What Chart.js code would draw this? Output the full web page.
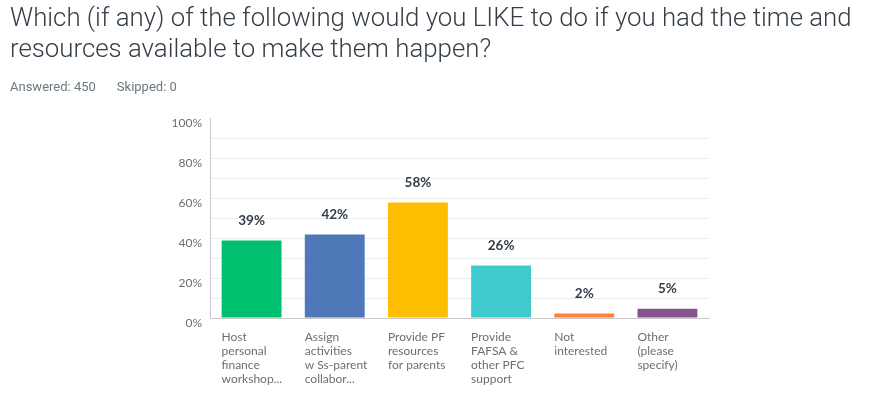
<!DOCTYPE html>
<html>
<head>
<meta charset="utf-8">
<script src="https://cdn.jsdelivr.net/npm/chart.js@4.4.1/dist/chart.umd.min.js"></script>
<style>
  html, body { margin: 0; padding: 0; background: #fff; }
  body { width: 874px; height: 395px; position: relative; overflow: hidden; }
  #title { position: absolute; left: 10px; top: 2px; width: 864px; font-family: Roboto, sans-serif; font-weight: 300; font-size: 25.8px; line-height: 31px; color: #333e48; white-space: nowrap; }
  #meta { position: absolute; left: 10px; top: 79px; font-family: Roboto, sans-serif; font-size: 13px; color: #6b787f; }
  #meta span + span { margin-left: 21px; }
  #wrap { position: absolute; left: 0; top: 0; width: 874px; height: 395px; }
</style>
</head>
<body>
<div id="wrap"><canvas id="c" width="874" height="395"></canvas></div>
<div id="title">Which (if any) of the following would you LIKE to do if you had the time and<br>resources available to make them happen?</div>
<div id="meta"><span>Answered: 450</span><span>Skipped: 0</span></div>
<script>
const categories = [
  ["Host", "personal", "finance", "workshop..."],
  ["Assign", "activities", "w Ss-parent", "collabor..."],
  ["Provide PF", "resources", "for parents"],
  ["Provide", "FAFSA &", "other PFC", "support"],
  ["Not", "interested"],
  ["Other", "(please", "specify)"]
];
const percentValues = [38.7, 41.8, 57.8, 26.2, 2.2, 4.6];
const barColors = ["#00bf6f", "#4f78b8", "#fdbd00", "#3fcbcd", "#fd8237", "#88548f"];
const yTickValues = [0, 20, 40, 60, 80, 100];

const valueLabels = {
  id: 'valueLabels',
  afterDatasetsDraw(chart) {
    const ctx = chart.ctx;
    const meta = chart.getDatasetMeta(0);
    ctx.save();
    ctx.font = "bold 13.5px Lato, sans-serif";
    ctx.fillStyle = "#333e48";
    ctx.textAlign = "center";
    ctx.textBaseline = "middle";
    meta.data.forEach((bar, i) => {
      ctx.fillText(Math.round(percentValues[i]) + "%", bar.x, bar.y - 20);
    });
    ctx.restore();
  }
};

new Chart(document.getElementById('c'), {
  type: 'bar',
  data: {
    labels: categories,
    datasets: [{
      data: percentValues,
      backgroundColor: barColors,
      borderWidth: 0,
      barPercentage: 0.72,
      categoryPercentage: 1.0
    }]
  },
  options: {
    responsive: false,
    animation: false,
    devicePixelRatio: 1,
    layout: { padding: { left: 0, top: 118, right: 165, bottom: 0 } },
    plugins: { legend: { display: false }, tooltip: { enabled: false } },
    scales: {
      x: {
        grid: { display: false, drawTicks: false },
        border: { display: true, color: "#c8c8c8", width: 1 },
        ticks: {
          align: 'start',
          labelOffset: -30,
          padding: 12,
          maxRotation: 0,
          autoSkip: false,
          color: "#6b6f73",
          font: { family: "Lato, sans-serif", size: 12, lineHeight: 14 / 12 }
        },
        afterFit(s) { s.height = 77; }
      },
      y: {
        min: 0,
        max: 100,
        grid: {
          drawTicks: false,
          color: (c) => (c.tick && c.tick.value === 100) ? "rgba(0,0,0,0)" : "#ececec",
          lineWidth: 1
        },
        border: { display: true, color: "#c8c8c8", width: 1 },
        ticks: {
          stepSize: 10,
          padding: 8,
          labelOffset: 5,
          color: "#6b6f73",
          font: { family: "Lato, sans-serif", size: 12 },
          callback: (v) => yTickValues.includes(v) ? v + "%" : ""
        },
        afterFit(s) { s.width = 210; }
      }
    }
  },
  plugins: [valueLabels]
});
</script>
</body>
</html>
